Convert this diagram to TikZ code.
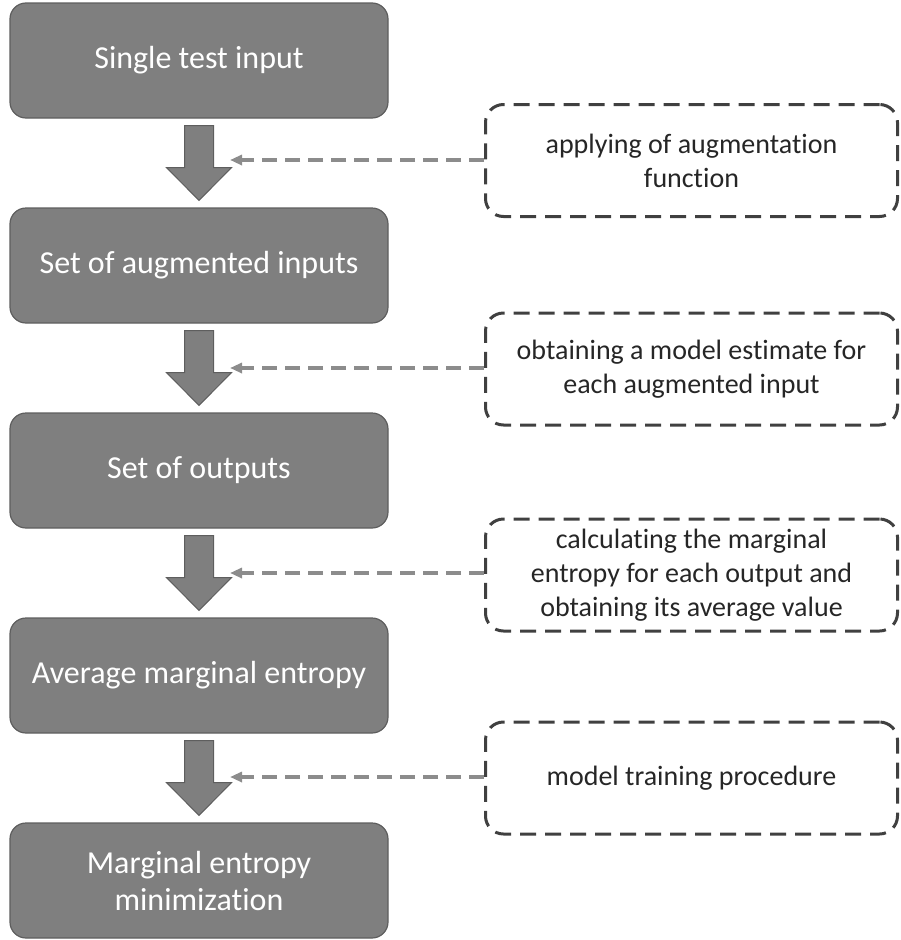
\documentclass[tikz,border=0pt]{standalone}
\usepackage{fontspec}
\setmainfont[Ligatures=NoCommon]{Carlito}
\usetikzlibrary{arrows.meta,calc}
\definecolor{boxfill}{HTML}{7F7F7F}
\definecolor{boxline}{HTML}{5E5E5E}
\definecolor{dashgray}{HTML}{8C8C8C}
\definecolor{dashline}{HTML}{404040}
\tikzset{
  stepbox/.style={draw=boxline, line width=1.2pt, fill=boxfill, rounded corners=16pt,
    minimum width=378pt, minimum height=115pt, align=center, text=white,
    font=\fontsize{32}{37}\selectfont, inner sep=0pt},
  notebox/.style={draw=dashline, line width=3pt, dash pattern=on 16pt off 9pt,
    rounded corners=18pt, minimum width=412pt, minimum height=112pt, align=center,
    text=black!85, font=\fontsize{28}{34}\selectfont, inner sep=0pt},
  blockarrow/.style={fill=boxfill, draw=boxline, line width=1pt},
  feed/.style={draw=dashgray, line width=3.5pt, dash pattern=on 15pt off 8pt,
    -{Triangle[length=12pt,width=10pt]}}
}
\begin{document}
\begin{tikzpicture}[x=1pt,y=-1pt]
\useasboundingbox (0,0) rectangle (900,940);
\node[stepbox] (b1) at (199,60.5) {Single test input};
\node[stepbox] (b2) at (199,265.5) {Set of augmented inputs};
\node[stepbox] (b3) at (199,470.5) {Set of outputs};
\node[stepbox] (b4) at (199,675.5) {Average marginal entropy};
\node[stepbox] (b5) at (199,880.5) {Marginal entropy\\minimization};
\node[notebox] (n1) at (691.5,160.5) {applying of augmentation\\function};
\node[notebox] (n2) at (691.5,369) {obtaining a model estimate for\\each augmented input};
\node[notebox] (n3) at (691.5,575) {calculating the marginal\\entropy for each output and\\obtaining its average value};
\node[notebox] (n4) at (691.5,778) {model training procedure};
\foreach \a/\b in {b1/b2,b2/b3,b3/b4,b4/b5}{
  \path ($(\a.south)+(0,7)$) coordinate (\a-top);
  \draw[blockarrow] ($(\a-top)+(-14.5,0)$) -- ($(\a-top)+(14.5,0)$) -- ($(\a-top)+(14.5,42)$)
     -- ($(\a-top)+(32.5,42)$) -- ($(\b.north)+(0,-7)$) -- ($(\a-top)+(-32.5,42)$)
     -- ($(\a-top)+(-14.5,42)$) -- cycle;
}
\coordinate (t1) at (230,160);
\coordinate (t2) at (230,368);
\coordinate (t3) at (230,573);
\coordinate (t4) at (230,777);
\draw[feed] (n1.west |- t1) -- (t1);
\draw[feed] (n2.west |- t2) -- (t2);
\draw[feed] (n3.west |- t3) -- (t3);
\draw[feed] (n4.west |- t4) -- (t4);
\end{tikzpicture}
\end{document}
